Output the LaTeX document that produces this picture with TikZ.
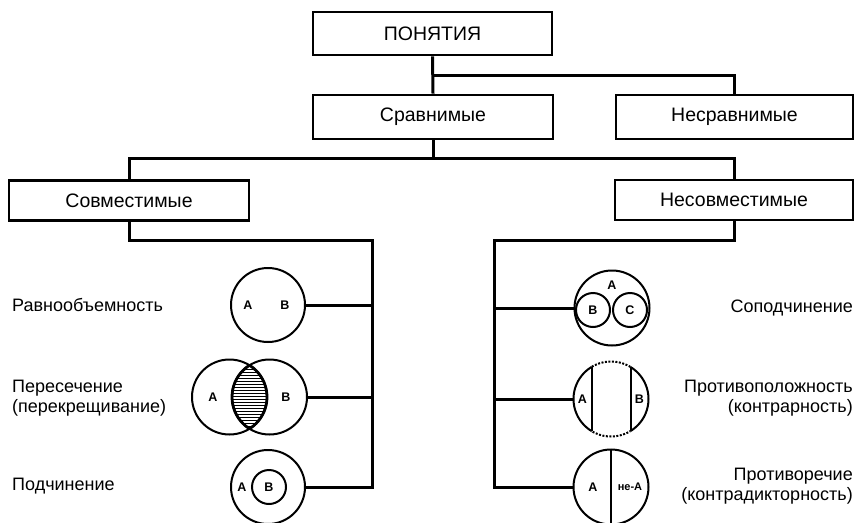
\documentclass[tikz,border=0pt]{standalone}
\usepackage{fontspec}
\setmainfont{Liberation Sans}
\usetikzlibrary{calc}
\begin{document}
\begin{tikzpicture}[x=1pt,y=-1pt,
  box/.style={draw, line width=2.8pt, inner sep=0pt, font=\fontsize{19.5}{22}\selectfont},
  conn/.style={line width=3pt},
  circ/.style={draw, circle, line width=2pt, inner sep=0pt},
  thin/.style={line width=2pt},
  lbl/.style={inner sep=0pt, font=\fontsize{18}{20}\selectfont},
  let/.style={inner sep=0pt, font=\bfseries\fontsize{12.5}{14}\selectfont}]
\useasboundingbox[fill=white] (0,0) rectangle (856,522);

% boxes
\node[box, minimum width=239pt, minimum height=43pt] (pon) at (432.5,33.5) {ПОНЯТИЯ};
\node[box, minimum width=240pt, minimum height=44pt] (srav) at (433,117) {Сравнимые};
\node[box, minimum width=237pt, minimum height=44pt] (nesr) at (734.5,117) {Несравнимые};
\node[box, minimum width=240pt, minimum height=40pt] (sovm) at (129,200.5) {Совместимые};
\node[box, minimum width=238pt, minimum height=40pt] (nesovm) at (734,200) {Несовместимые};

% tree connectors
\coordinate (j1) at (433,75);
\coordinate (j2) at (433,158);
\draw[conn] (pon.south) -- (srav.north);
\draw[conn] (j1) -| (nesr.north);
\draw[conn] (srav.south) -- (j2);
\draw[conn] (sovm.north) |- (j2) -| (nesovm.north);

% left circles
\node[circ, minimum size=74pt] (eq) at (268,305) {};
\node[let] (eqA) at (248,305) {А};
\node[let] (eqB) at (285,305) {В};

\begin{scope}
  \clip (229.5,397) circle (37.5pt);
  \clip (269.5,397) circle (37.5pt);
  \foreach \yy in {360,363,...,435} \draw[line width=0.7pt] (220,\yy) -- (280,\yy);
\end{scope}
\begin{scope}
  \clip (229.5,397) circle (37.5pt);
  \draw[line width=2.8pt] (269.5,397) circle (37.5pt);
\end{scope}
\begin{scope}
  \clip (269.5,397) circle (37.5pt);
  \draw[line width=2.8pt] (229.5,397) circle (37.5pt);
\end{scope}
\node[circ, minimum size=75pt] (isL) at (229.5,397) {};
\node[circ, minimum size=75pt] (isR) at (269.5,397) {};
\node[let] (isA) at (213,397) {А};
\node[let] (isB) at (286,397) {В};

\node[circ, minimum size=74pt] (sub) at (268,487) {};
\node[circ, let, minimum size=34pt] (subB) at (269,487) {В};
\node[let] (subA) at (242,487) {А};

\coordinate (rt) at (372,240);
\draw[conn] (sovm.south) |- (rt) -- (rt |- sub.east) -- (sub.east);
\draw[conn] (eq.east) -- (eq.east -| rt);
\draw[conn] (isR.east) -- (isR.east -| rt);

% right circles
\node[circ, minimum size=75pt] (co) at (612,308) {};
\node[circ, let, minimum size=34pt] (coB) at (593,310) {В};
\node[circ, let, minimum size=34pt] (coC) at (630,310) {С};
\node[let] (coA) at (612,285) {А};

\node[circle, minimum size=75pt, inner sep=0pt] (ct) at (611,399) {};
\begin{scope}
  \clip (591.5,340) rectangle (630.5,460);
  \draw[thin, dash pattern=on 2pt off 1.5pt] (611,399) circle (37.5pt);
\end{scope}
\begin{scope}
  \clip (540,340) rectangle (591.5,460) (630.5,340) rectangle (680,460);
  \draw[thin] (611,399) circle (37.5pt);
\end{scope}
\draw[thin] (591.5,367) -- (591.5,431);
\draw[thin] (630.5,367) -- (630.5,431);
\node[let] (ctA) at (582.5,399) {А};
\node[let] (ctB) at (639.5,399) {В};

\node[circ, minimum size=75pt] (cd) at (611,487) {};
\draw[thin] (cd.north) -- (cd.south);
\node[let] (cdA) at (593,487) {А};
\node[let, font=\bfseries\fontsize{11}{12}\selectfont] (cdN) at (630,487) {не-А};

\coordinate (lt) at (494,240);
\draw[conn] (nesovm.south) |- (lt) -- (lt |- cd.west) -- (cd.west);
\draw[conn] (co.west) -- (co.west -| lt);
\draw[conn] (ct.west) -- (ct.west -| lt);

% side labels
\node[lbl, anchor=west] (l1) at (12,305) {Равнообъемность};
\node[lbl, anchor=west, align=left] (l2) at (12,398) {Пересечение\\(перекрещивание)};
\node[lbl, anchor=west] (l3) at (12,486) {Подчинение};
\node[lbl, anchor=east] (r1) at (853,308) {Соподчинение};
\node[lbl, anchor=east, align=right] (r2) at (853,398) {Противоположность\\(контрарность)};
\node[lbl, anchor=east, align=right] (r3) at (853,486) {Противоречие\\(контрадикторность)};
\end{tikzpicture}
\end{document}
